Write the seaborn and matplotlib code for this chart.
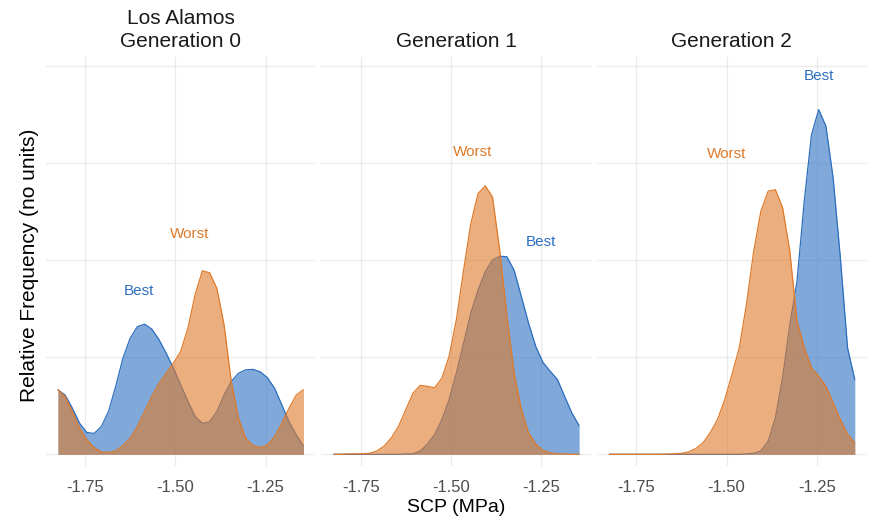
import matplotlib
matplotlib.use("Agg")
import pandas as pd
import matplotlib.pyplot as plt
import seaborn as sns

# SCP positions where the density curves were read (MPa)
scp = [-1.825, -1.805, -1.785, -1.765, -1.745, -1.725, -1.705, -1.685, -1.665,
       -1.645, -1.625, -1.605, -1.585, -1.565, -1.545, -1.525, -1.505, -1.485,
       -1.465, -1.445, -1.425, -1.405, -1.385, -1.365, -1.345, -1.325, -1.305,
       -1.285, -1.265, -1.245, -1.225, -1.205, -1.185, -1.165, -1.145]

# density per generation / group
gen0_best = [1.33, 1.22, 0.95, 0.64, 0.45, 0.43, 0.57, 0.88, 1.40, 1.98, 2.39, 2.63,
             2.68, 2.58, 2.36, 2.08, 1.77, 1.43, 1.09, 0.78, 0.64, 0.67, 0.88, 1.22,
             1.50, 1.67, 1.74, 1.75, 1.70, 1.58, 1.36, 1.02, 0.67, 0.40, 0.17]
gen0_worst = [1.33, 1.19, 0.88, 0.54, 0.30, 0.14, 0.05, 0.04, 0.07, 0.18, 0.33, 0.57,
              0.88, 1.19, 1.46, 1.67, 1.88, 2.12, 2.60, 3.29, 3.78, 3.74, 3.42, 2.67,
              1.50, 0.74, 0.33, 0.18, 0.14, 0.19, 0.36, 0.64, 0.95, 1.22, 1.33]
gen1_best = [0, 0, 0, 0, 0, 0, 0, 0, 0, 0, 0.01, 0.01,
             0.07, 0.21, 0.41, 0.72, 1.13, 1.68, 2.29, 2.91, 3.38, 3.76, 4.00, 4.08,
             4.07, 3.79, 3.25, 2.70, 2.22, 1.89, 1.71, 1.54, 1.19, 0.85, 0.59]
gen1_worst = [0, 0, 0.01, 0.01, 0.01, 0.02, 0.07, 0.17, 0.34, 0.58, 0.92, 1.26,
              1.42, 1.40, 1.37, 1.57, 2.02, 2.77, 3.79, 4.75, 5.37, 5.53, 5.30, 4.21,
              2.84, 1.67, 0.92, 0.44, 0.21, 0.08, 0.03, 0.01, 0.01, 0, 0]
gen2_best = [0, 0, 0, 0, 0, 0, 0, 0, 0, 0, 0, 0,
             0, 0, 0, 0, 0, 0, 0, 0.01, 0.02, 0.07, 0.27, 0.75,
             1.58, 2.67, 3.57, 5.21, 6.58, 7.10, 6.76, 5.69, 4.05, 2.19, 1.54]
gen2_worst = [0, 0, 0, 0, 0, 0, 0, 0, 0.005, 0.01, 0.02, 0.05,
              0.12, 0.24, 0.45, 0.72, 1.13, 1.65, 2.19, 3.09, 4.18, 5.01, 5.42, 5.45,
              5.08, 4.18, 2.74, 2.20, 1.78, 1.61, 1.40, 1.06, 0.72, 0.41, 0.24]

panel_titles = ["Los Alamos\nGeneration 0", "Generation 1", "Generation 2"]
groups = ["Best", "Worst"]
x_ticks = [-1.75, -1.50, -1.25]
x_tick_labels = ["-1.75", "-1.50", "-1.25"]

colors = {"Best": "#2C6FBF", "Worst": "#DF7A2A"}

# where the group names are written in each panel (x, y)
label_pos = [
    {"Best": (-1.601, 3.36), "Worst": (-1.459, 4.54)},
    {"Best": (-1.251, 4.37), "Worst": (-1.440, 6.22)},
    {"Best": (-1.243, 7.79), "Worst": (-1.501, 6.18)},
]

curves = [(gen0_best, gen0_worst), (gen1_best, gen1_worst), (gen2_best, gen2_worst)]
frames = []
for p, (best, worst) in enumerate(curves):
    for g, vals in zip(groups, (best, worst)):
        frames.append(pd.DataFrame({"scp": scp, "density": vals, "group": g, "panel": p}))
df = pd.concat(frames, ignore_index=True)

sns.set_theme(style="whitegrid")
plt.rcParams['font.family'] = ['Liberation Sans', 'DejaVu Sans']

fig, axes = plt.subplots(1, 3, figsize=(8.73, 5.21), dpi=100, sharey=True)
fig.subplots_adjust(left=0.0523, right=0.9928, top=0.8912, bottom=0.1056, wspace=0.022)

for p, ax in enumerate(axes):
    sub = df[df['panel'] == p]
    for k, g in enumerate(groups):
        d = sub[sub['group'] == g]
        ax.fill_between(d['scp'], d['density'], 0, color=colors[g], alpha=0.6,
                        linewidth=0, zorder=2 + 2 * k)
        sns.lineplot(data=d, x='scp', y='density', color=colors[g], linewidth=0.9,
                     ax=ax, zorder=3 + 2 * k, legend=False)
        tx, ty = label_pos[p][g]
        ax.text(tx, ty, g, color=colors[g], fontsize=11, ha='center', va='center')

    ax.set_xlim(-1.859, -1.112)
    ax.set_ylim(-0.24, 8.19)
    ax.set_yticks([0, 2, 4, 6, 8])
    ax.set_xticks(x_ticks)
    ax.set_xticklabels(x_tick_labels, fontsize=12, color='#4D4D4D')
    ax.set_yticklabels([])
    ax.tick_params(length=0, pad=10)
    ax.grid(True, color='#EBEBEB', linewidth=0.9)
    ax.set_facecolor('white')
    for s in ax.spines.values():
        s.set_visible(False)
    ax.set_xlabel('')
    ax.set_ylabel('')
    ax.set_title(panel_titles[p], fontsize=15, pad=7, linespacing=1.25, color='#1A1A1A')

fig.text(0.034, 0.49, 'Relative Frequency (no units)', rotation=90, fontsize=15,
         ha='center', va='center', color='black')
fig.text(0.5223, 0.026, 'SCP (MPa)', fontsize=14, ha='center', va='center', color='black')

fig.savefig('out.png', dpi=100)
